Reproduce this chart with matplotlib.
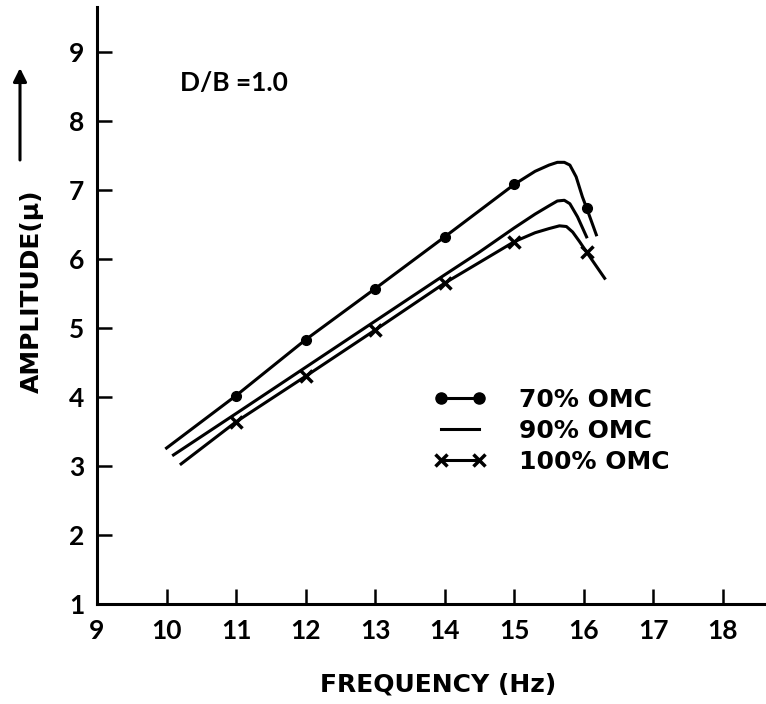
import matplotlib
matplotlib.use("Agg")
import matplotlib.pyplot as plt

plt.rcParams['font.family'] = ['Lato', 'DejaVu Sans']

# curves (frequency in Hz, amplitude in micron)
freq_70 = [10.0, 11.0, 12.0, 13.0, 14.0, 14.5, 15.0, 15.3, 15.5, 15.62, 15.72, 15.8, 15.89, 15.98, 16.04, 16.18]
amp_70 = [3.26, 4.02, 4.83, 5.57, 6.32, 6.70, 7.08, 7.27, 7.36, 7.40, 7.40, 7.36, 7.19, 6.90, 6.74, 6.35]
freq_90 = [10.1, 11.0, 12.0, 13.0, 14.0, 14.5, 15.0, 15.3, 15.5, 15.62, 15.72, 15.8, 15.91, 16.04]
amp_90 = [3.16, 3.76, 4.43, 5.10, 5.77, 6.10, 6.45, 6.65, 6.77, 6.84, 6.85, 6.80, 6.61, 6.32]
freq_100 = [10.21, 11.0, 12.0, 13.0, 14.0, 14.5, 15.0, 15.3, 15.5, 15.65, 15.75, 15.84, 15.94, 16.04, 16.30]
amp_100 = [3.03, 3.64, 4.30, 4.97, 5.65, 5.95, 6.25, 6.38, 6.44, 6.48, 6.47, 6.39, 6.25, 6.10, 5.72]

# measured points
pts_x_70 = [11, 12, 13, 14, 15, 16.04]
pts_y_70 = [4.02, 4.83, 5.57, 6.32, 7.08, 6.74]
pts_x_100 = [11, 12, 13, 14, 15, 16.04]
pts_y_100 = [3.64, 4.30, 4.97, 5.65, 6.25, 6.10]

xticks = [9, 10, 11, 12, 13, 14, 15, 16, 17, 18]
yticks = [1, 2, 3, 4, 5, 6, 7, 8, 9]

fig = plt.figure(figsize=(7.66, 7.04), dpi=100)
ax = fig.add_axes([0.1266, 0.142, 0.8734, 0.848])

lw = 2.2
ax.plot(freq_70, amp_70, color='black', lw=lw)
ax.plot(freq_90, amp_90, color='black', lw=lw)
ax.plot(freq_100, amp_100, color='black', lw=lw)
ax.plot(pts_x_70, pts_y_70, 'o', color='black', ms=7)
ax.plot(pts_x_100, pts_y_100, 'x', color='black', ms=8, mew=2.5)

ax.set_xlim(9, 18.62)
ax.set_ylim(1, 9.65)
ax.set_xticks(xticks)
ax.set_yticks(yticks)
for s in ['top', 'right']:
    ax.spines[s].set_visible(False)
for s in ['left', 'bottom']:
    ax.spines[s].set_linewidth(2.2)
ax.tick_params(direction='in', length=11, width=1.8, labelsize=19)
ax.tick_params(axis='x', pad=11)
ax.tick_params(axis='y', pad=9)
for lab in ax.get_xticklabels() + ax.get_yticklabels():
    lab.set_fontweight('bold')

lab_font = ['DejaVu Sans']
ax.set_xlabel('FREQUENCY (Hz)', fontsize=18, fontweight='bold', family=lab_font)
ax.xaxis.set_label_coords(0.51, -0.115)
ax.set_ylabel('AMPLITUDE(\u03bc)', fontsize=18, fontweight='bold', family=lab_font)
ax.yaxis.set_label_coords(-0.08, 0.524)
fig.patches.append(matplotlib.patches.FancyArrowPatch(
    (20 / 766, 1 - 160 / 704), (20 / 766, 1 - 68 / 704),
    transform=fig.transFigure, arrowstyle='-|>', mutation_scale=20,
    color='black', lw=2.2, shrinkA=0, shrinkB=0))

ax.text(10.2, 8.55, 'D/B =1.0', fontsize=19, fontweight='bold', va='center')

h1, = ax.plot([], [], 'o-', color='black', lw=lw, ms=8)
h2, = ax.plot([], [], '-', color='black', lw=lw)
h3, = ax.plot([], [], 'x-', color='black', lw=lw, ms=8, mew=2.5)
leg = ax.legend([h1, h2, h3], ['70% OMC', '90% OMC', '100% OMC'],
                loc='upper left', bbox_to_anchor=(0.47, 0.40), frameon=False,
                handlelength=2.1, numpoints=2, labelspacing=0.28,
                handletextpad=1.3,
                prop={'size': 18, 'weight': 'bold', 'family': lab_font})

fig.savefig('out.png', dpi=100)
